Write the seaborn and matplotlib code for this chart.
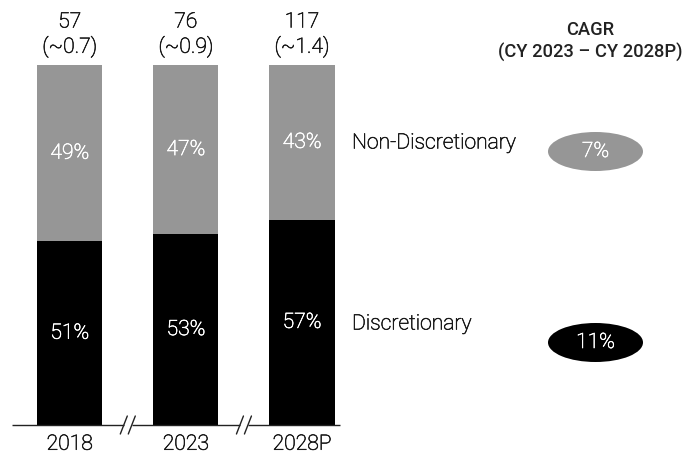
import matplotlib
matplotlib.use("Agg")
import matplotlib.pyplot as plt
import matplotlib.patheffects as pe
from matplotlib.patches import Ellipse
import seaborn as sns
import pandas as pd

# ---- data ----
years = ["2018", "2023", "2028P"]
discretionary = [51, 53, 57]
non_discretionary = [49, 47, 43]
totals = ["57", "76", "117"]
totals_usd = ["(~0.7)", "(~0.9)", "(~1.4)"]
segments = ["Non-Discretionary", "Discretionary"]
cagr = ["7%", "11%"]
cagr_title = ["CAGR", "(CY 2023 \u2013 CY 2028P)"]

sns.set_style("white")
plt.rcParams["font.family"] = ["Roboto", "DejaVu Sans"]

GRAY = "#969696"
TXT = "#1a1a1a"
WHITE = "#ffffff"
FS = 15.2
FW = "light"
W, H = 683, 455


def thick(color):
    return [pe.withStroke(linewidth=0.45, foreground=color)]


df = pd.DataFrame({
    "year": years,
    "disc": discretionary,
    "total": [d + n for d, n in zip(discretionary, non_discretionary)],
})

fig = plt.figure(figsize=(W / 100, H / 100), dpi=100)
ax = fig.add_axes([12 / W, 30 / H, 328 / W, 360 / H])

sns.barplot(data=df, x="year", y="total", order=years, color=GRAY,
            width=0.56, ax=ax, saturation=1, edgecolor="none")
sns.barplot(data=df, x="year", y="disc", order=years, color="black",
            width=0.56, ax=ax, saturation=1, edgecolor="none")

ax.set_xlim(-0.497, 2.327)
ax.set_ylim(0, 100)
ax.set_xlabel("")
ax.set_ylabel("")
ax.set_yticks([])
for s in ax.spines.values():
    s.set_visible(False)
ax.tick_params(axis="x", length=0, pad=7, labelsize=FS, labelcolor=TXT)
for t in ax.get_xticklabels():
    t.set_fontweight(FW)
    t.set_path_effects(thick(TXT))

# segment labels
for i, (d, n) in enumerate(zip(discretionary, non_discretionary)):
    ax.text(i, d / 2, f"{d}%", ha="center", va="center", color=WHITE,
            fontsize=FS, fontweight=FW, path_effects=thick(WHITE))
    ax.text(i, d + n / 2, f"{n}%", ha="center", va="center", color=WHITE,
            fontsize=FS, fontweight=FW, path_effects=thick(WHITE))
    ax.text(i, 100 + 43 / 3.6, totals[i], ha="center", va="center", color=TXT,
            fontsize=FS, fontweight=FW, clip_on=False, path_effects=thick(TXT))
    ax.text(i, 100 + 18 / 3.6, totals_usd[i], ha="center", va="center", color=TXT,
            fontsize=FS, fontweight=FW, clip_on=False, path_effects=thick(TXT))

# axis line with break marks
px = 1 / 116.2  # data units per pixel (x)
py = 1 / 3.6    # data units per pixel (y)
xl, xr = ax.get_xlim()
breaks = [0.5, 1.5]
half = 4 * px
pts = [xl]
for b in breaks:
    pts += [b - half, b + half]
pts.append(xr)
for a, b in zip(pts[0::2], pts[1::2]):
    ax.plot([a, b], [0, 0], color="#222222", lw=1.0, clip_on=False,
            solid_capstyle="butt")
for b in breaks:
    for off in (-half, half):
        cx = b + off
        ax.plot([cx - 3.5 * px, cx + 3.5 * px], [-9 * py, 9 * py],
                color="#222222", lw=1.0, clip_on=False)

# right side: segment names
fig.text(352 / W, 1 - 143 / H, segments[0], ha="left", va="center",
         color=TXT, fontsize=FS, fontweight=FW, path_effects=thick(TXT))
fig.text(352 / W, 1 - 324 / H, segments[1], ha="left", va="center",
         color=TXT, fontsize=FS, fontweight=FW, path_effects=thick(TXT))

# CAGR header
fig.text(590 / W, 1 - 30 / H, cagr_title[0], ha="center", va="center",
         color="#222222", fontsize=13.2, fontweight="medium")
fig.text(590 / W, 1 - 52 / H, cagr_title[1], ha="center", va="center",
         color="#222222", fontsize=13.2, fontweight="medium")

# CAGR ellipses
for cy, col, lab in [(151.5, GRAY, cagr[0]), (342.5, "black", cagr[1])]:
    e = Ellipse((595.5 / W, 1 - cy / H), 95 / W, 39 / H,
                transform=fig.transFigure, facecolor=col, edgecolor="none")
    fig.add_artist(e)
    fig.text(595.5 / W, 1 - cy / H, lab, ha="center", va="center",
             color=WHITE, fontsize=FS, fontweight=FW, path_effects=thick(WHITE))

fig.savefig("out.png", dpi=100)
